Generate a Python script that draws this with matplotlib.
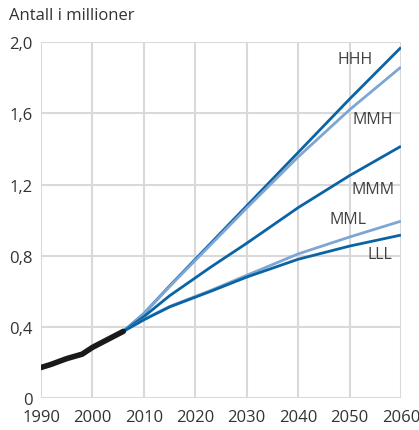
import matplotlib
matplotlib.use("Agg")
import matplotlib.pyplot as plt

hist_years = [1990, 1992, 1995, 1998, 2000, 2003, 2006]
hist_vals = [0.172, 0.190, 0.222, 0.247, 0.285, 0.330, 0.375]

proj_years = [2006, 2010, 2015, 2023, 2030, 2040, 2050, 2060]
HHH = [0.375, 0.475, 0.630, 0.870, 1.080, 1.380, 1.680, 1.970]
MMH = [0.375, 0.474, 0.627, 0.862, 1.068, 1.355, 1.620, 1.860]
MMM = [0.375, 0.458, 0.575, 0.736, 0.870, 1.070, 1.250, 1.415]
MML = [0.375, 0.442, 0.515, 0.605, 0.690, 0.810, 0.905, 0.994]
LLL = [0.375, 0.440, 0.512, 0.600, 0.680, 0.780, 0.854, 0.916]

series = [("HHH", HHH, "#0a64a4"), ("MMH", MMH, "#7ea6d4"), ("MMM", MMM, "#0a64a4"),
          ("MML", MML, "#7ea6d4"), ("LLL", LLL, "#0a64a4")]
label_pos = {"HHH": (2051.0, 1.905), "MMH": (2054.6, 1.57), "MMM": (2054.6, 1.175),
             "MML": (2049.7, 1.005), "LLL": (2055.8, 0.81)}

xticks = [1990, 2000, 2010, 2020, 2030, 2040, 2050, 2060]
yticks = [0, 0.4, 0.8, 1.2, 1.6, 2.0]
ylabels = ["0", "0,4", "0,8", "1,2", "1,6", "2,0"]

plt.rcParams['font.family'] = ['Open Sans', 'DejaVu Sans']
fig = plt.figure(figsize=(4.19, 4.31), dpi=100)
ax = fig.add_axes([0.098, 0.074, 0.859, 0.826])

for name, vals, col in series:
    ax.plot(proj_years, vals, color=col, lw=2, solid_capstyle='butt', zorder=3)
    x, y = label_pos[name]
    ax.text(x, y, name, ha='center', va='center', fontsize=11.5, color='#404040', zorder=4)

ax.plot(hist_years, hist_vals, color='#1a1a1a', lw=4, solid_capstyle='round', zorder=5)

ax.set_xlim(1990, 2060)
ax.set_ylim(0, 2.0)
ax.set_xticks(xticks)
ax.set_yticks(yticks)
ax.set_yticklabels(ylabels)
ax.grid(True, color='#d9d9d9', lw=1.5)
ax.set_axisbelow(True)
for s in ax.spines.values():
    s.set_visible(False)
ax.tick_params(length=0, labelsize=12, colors='#333333')
ax.tick_params(axis='x', pad=8)
ax.tick_params(axis='y', pad=6)
fig.text(0.021, 0.962, "Antall i millioner", fontsize=12, color='#333333', ha='left', va='center')

fig.savefig("out.png", dpi=100)
